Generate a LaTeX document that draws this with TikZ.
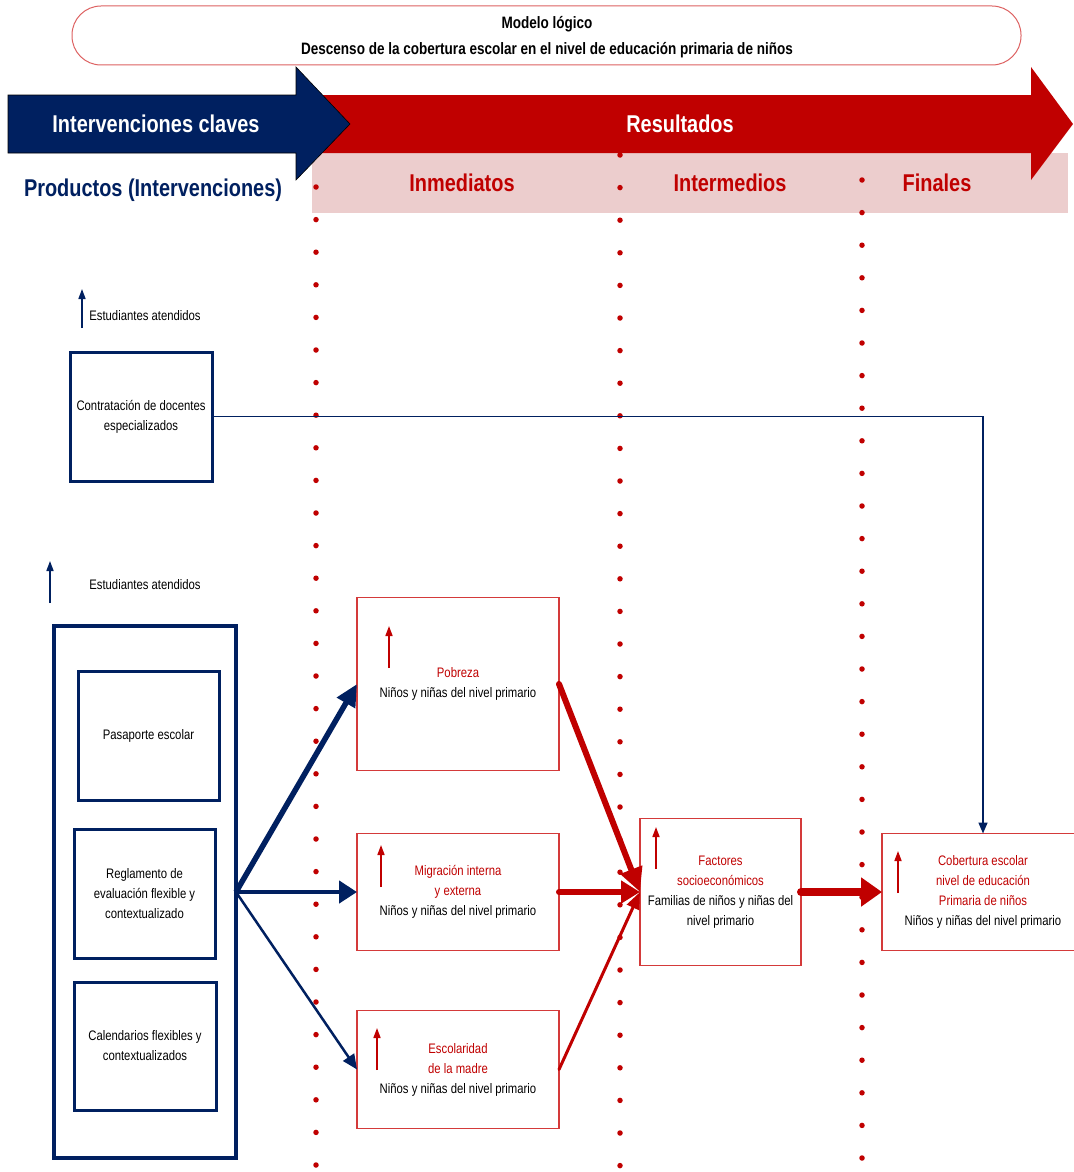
\documentclass[tikz,border=0pt]{standalone}
\usepackage{fontspec}
\setmainfont{Liberation Sans}[FakeStretch=0.82]
\usetikzlibrary{arrows.meta}
\definecolor{navy}{HTML}{002060}
\definecolor{dred}{HTML}{C00000}
\definecolor{bred}{HTML}{D43A3A}
\definecolor{pinkband}{HTML}{ECCDCD}
\begin{document}
\begin{tikzpicture}[x=1pt,y=-1pt,
  every node/.style={inner sep=0pt, outer sep=0pt},
  txt/.style={font=\fontsize{13.8}{20}\selectfont, align=center, text=black},
  bluebox/.style={draw=navy, line width=3pt, txt},
  redbox/.style={draw=bred, line width=1.2pt, txt},
  hdr/.style={font=\fontsize{24.3}{28}\selectfont\bfseries},
  dotline/.style={dred, line width=5.5pt, line cap=round, dash pattern=on 0pt off 32.6pt},
  upblue/.style={navy, line width=1.6pt, -{Triangle[length=10pt,width=7pt]}},
  upred/.style={dred, line width=1.6pt, -{Triangle[length=10pt,width=7pt]}},
]
\useasboundingbox[fill=white] (0,0) rectangle (1073,1172);

% title
\node[draw=bred!80, line width=1pt, rounded corners=29pt, minimum width=949, minimum height=59] (title) at (546.5,35.5) {};
\node[font=\fontsize{16.5}{26}\selectfont\bfseries, align=center] (titletxt) at (547,37) {Modelo lógico\\Descenso de la cobertura escolar en el nivel de educación primaria de niños};

% header band
\fill[pinkband] (312,153) rectangle (1068,213);
\fill[dred] (320,95) -- (1031,95) -- (1031,67) -- (1073,124) -- (1031,180) -- (1031,153) -- (320,153) -- cycle;
\filldraw[fill=navy, draw=black, line width=0.6pt] (8,95) -- (296,95) -- (296,67) -- (350,124) -- (296,180) -- (296,153) -- (8,153) -- cycle;
\node[hdr, text=white] (intv) at (156,124) {Intervenciones claves};
\node[hdr, text=white] (res) at (680,124) {Resultados};
\node[hdr, text=navy] (prod) at (153,190) {Productos (Intervenciones)};
\node[hdr, text=dred] (inm) at (462,183) {Inmediatos};
\node[hdr, text=dred] (intm) at (730,183) {Intermedios};
\node[hdr, text=dred] (fin) at (937,183) {Finales};

% dotted separators
\draw[dotline] (316,187) -- (316,1172);
\draw[dotline] (620,155) -- (620,1172);
\draw[dotline] (862,180) -- (862,1172);

% left side
\node[txt] (est1) at (145,316) {Estudiantes atendidos};
\draw[upblue] (82,328) -- (82,289);
\node[bluebox, minimum width=142, minimum height=129] (con) at (141,416.5) {Contratación de docentes\\especializados};

\node[txt] (est2) at (145,585) {Estudiantes atendidos};
\draw[upblue] (50,603) -- (50,561);
\node[draw=navy, line width=4.5pt, minimum width=182, minimum height=532] (grp) at (145,892) {};
\node[bluebox, minimum width=141, minimum height=129] (pas) at (148.5,735.5) {Pasaporte escolar};
\node[bluebox, minimum width=141, minimum height=129] (reg) at (144.5,894) {Reglamento de\\evaluación flexible y\\contextualizado};
\node[bluebox, minimum width=142, minimum height=128] (cal) at (145,1046) {Calendarios flexibles y\\contextualizados};

% result boxes
\node[redbox, minimum width=202, minimum height=173] (pob) at (458,684) {\textcolor{dred}{Pobreza}\\Niños y niñas del nivel primario};
\draw[upred] (389,668) -- (389,626);
\node[redbox, minimum width=202, minimum height=117] (mig) at (458,892) {\textcolor{dred}{Migración interna}\\\textcolor{dred}{y externa}\\Niños y niñas del nivel primario};
\draw[upred] (381,887) -- (381,845);
\node[redbox, minimum width=202, minimum height=118] (esc) at (458,1069.5) {\textcolor{dred}{Escolaridad}\\\textcolor{dred}{de la madre}\\Niños y niñas del nivel primario};
\draw[upred] (377,1070) -- (377,1028);
\node[redbox, minimum width=161, minimum height=147] (fac) at (720.5,892) {\textcolor{dred}{Factores}\\\textcolor{dred}{socioeconómicos}\\Familias de niños y niñas del\\nivel primario};
\draw[upred] (656,869) -- (656,827);
\node[redbox, minimum width=202, minimum height=117] (cob) at (983,892) {\textcolor{dred}{Cobertura escolar}\\\textcolor{dred}{nivel de educación}\\\textcolor{dred}{Primaria de niños}\\Niños y niñas del nivel primario};
\draw[upred] (898,893) -- (898,851);

% connectors
\draw[navy, line width=1.5pt, -{Triangle[length=11pt,width=9pt]}] (con.east) -| (cob.north);
\draw[navy, line width=5.5pt, -{Triangle[length=22pt,width=20pt]}] (grp.east) -- (pob.west);
\draw[navy, line width=4.5pt, -{Triangle[length=18pt,width=22pt]}] (grp.east) -- (mig.west);
\draw[navy, line width=2.5pt, -{Triangle[length=15pt,width=13pt]}] (grp.east) -- (esc.west);
\draw[dred, line width=6pt, line cap=round, -{Triangle[length=24pt,width=22pt]}] (pob.east) -- (fac.west);
\draw[dred, line width=6pt, line cap=round, -{Triangle[length=19pt,width=22pt]}] (mig.east) -- (fac.west);
\draw[dred, line width=3pt, line cap=round, -{Triangle[length=17pt,width=13pt]}] (esc.east) -- (fac.west);
\draw[dred, line width=8pt, line cap=round, -{Triangle[length=21pt,width=28pt]}] (fac.east) -- (cob.west);
\end{tikzpicture}
\end{document}
